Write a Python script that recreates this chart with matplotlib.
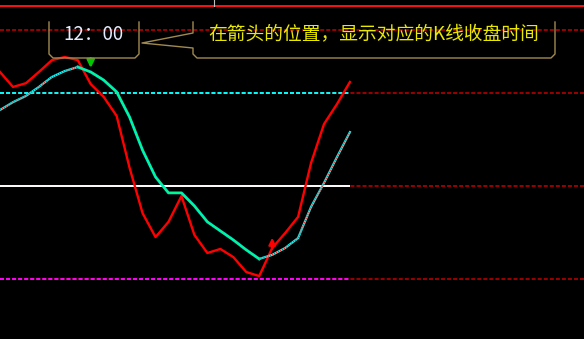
"""Indicator panel with K-line close-time callout (mockup)."""

import matplotlib
matplotlib.use("Agg")
import matplotlib.pyplot as plt

plt.rcParams["lines.scale_dashes"] = False

bars = list(range(28))
close_line = [86.6, 81.8, 83.0, 86.6, 90.4, 91.4, 90.4, 82.7, 78.6, 72.5,
              55.8, 41.3, 33.6, 38.5, 46.8, 34.3, 28.5, 29.8, 27.2, 22.4,
              21.1, 30.1, 34.9, 40.1, 57.4, 69.9, 76.3, 83.4]
ma_line = [74.4, 76.9, 78.9, 81.8, 85.0, 86.9, 88.2, 86.6, 84.0, 80.2,
           72.1, 61.5, 52.9, 47.8, 47.8, 43.6, 38.5, 35.6, 32.7, 29.5,
           26.6, 27.9, 30.1, 33.3, 43.3, 51.0, 59.3, 67.3]
ma_peak = 6
ma_trough = 20
levels = [80, 50, 20]
level_colors = ["#00ffff", "#ffffff", "#ff00ff"]
level_styles = ["dashed", "solid", "dashed"]
top_level = 100
border_level = 107.7
arrow_down_bar = 7
arrow_up_bar = 21
time_label = "12：00"
note_label = "在箭头的位置，显示对应的K线收盘时间"

DASH = (0, (2.9, 1.45))
CJK = ["Noto Sans CJK SC", "DejaVu Sans"]


def main() -> None:
    fig = plt.figure(figsize=(5.84, 3.39), dpi=100, facecolor="black")
    ax = fig.add_axes([0, 0, 1, 1], facecolor="black")
    ax.set_xlim(0, 45.06)
    ax.set_ylim(0.9, 109.7)
    ax.axis("off")

    # panel border and reference levels
    ax.axhline(border_level, color="#ff1010", lw=1.4)
    ax.plot([16.5, 16.5], [border_level, 109.7], color="#c0c0c0", lw=0.8)
    for lv in [top_level] + levels:
        ax.axhline(lv, color="#a80000", lw=1.3, ls=DASH)
    for lv, c, s in zip(levels, level_colors, level_styles):
        ax.hlines(lv, bars[0], bars[-1], colors=c, lw=1.4,
                  linestyles=DASH if s == "dashed" else "solid")

    # close line
    ax.plot(bars, close_line, color="#ff0000", lw=1.7, zorder=4)

    # moving average: rising parts striped, falling part green
    rising = [(0, ma_peak), (ma_trough, len(bars) - 1)]
    for a, b in rising:
        ax.plot(bars[a:b + 1], ma_line[a:b + 1], color="#00ffff", lw=1.6, zorder=5)
        ax.plot(bars[a:b + 1], ma_line[a:b + 1], color="#ff2020", lw=1.0,
                ls=(0, (0.72, 0.9)), zorder=6)
    seg = slice(ma_peak, ma_trough + 1)
    ax.plot(bars[seg], ma_line[seg], color="#00e0e0", lw=2.0, zorder=5)
    ax.plot(bars[seg], ma_line[seg], color="#00ff80", lw=1.0, zorder=6)

    # arrows
    ax.annotate("", xy=(arrow_down_bar, 87.9), xytext=(arrow_down_bar, 91.0),
                arrowprops=dict(arrowstyle="-|>", color="#00c800", lw=1.8,
                                mutation_scale=11, shrinkA=0, shrinkB=0), zorder=7)
    ax.annotate("", xy=(arrow_up_bar, 33.4), xytext=(arrow_up_bar, 29.8),
                arrowprops=dict(arrowstyle="-|>", color="#ff0000", lw=1.6,
                                mutation_scale=10, shrinkA=0, shrinkB=0), zorder=7)

    # callout overlay in pixel units
    ov = fig.add_axes([0, 0, 1, 1], facecolor="none")
    ov.set_xlim(0, 584)
    ov.set_ylim(339, 0)
    ov.axis("off")
    box_c = "#a08a50"
    ov.plot([49, 49, 53, 135, 139, 139], [22, 54, 58, 58, 54, 22], color=box_c, lw=1.0)
    ov.plot([193, 193, 142, 193, 193, 197, 551, 555, 555],
            [22, 33, 43, 48, 54, 58, 58, 54, 22], color=box_c, lw=1.0)
    ov.text(93, 34, time_label, color="#e6ecff", fontsize=13.5, family=CJK,
            ha="center", va="center")
    ov.text(374, 34, note_label, color="#e8e800", fontsize=13.5, family=CJK,
            ha="center", va="center")

    fig.savefig("out.png", dpi=100, facecolor="black")
    plt.close(fig)


if __name__ == "__main__":
    main()
